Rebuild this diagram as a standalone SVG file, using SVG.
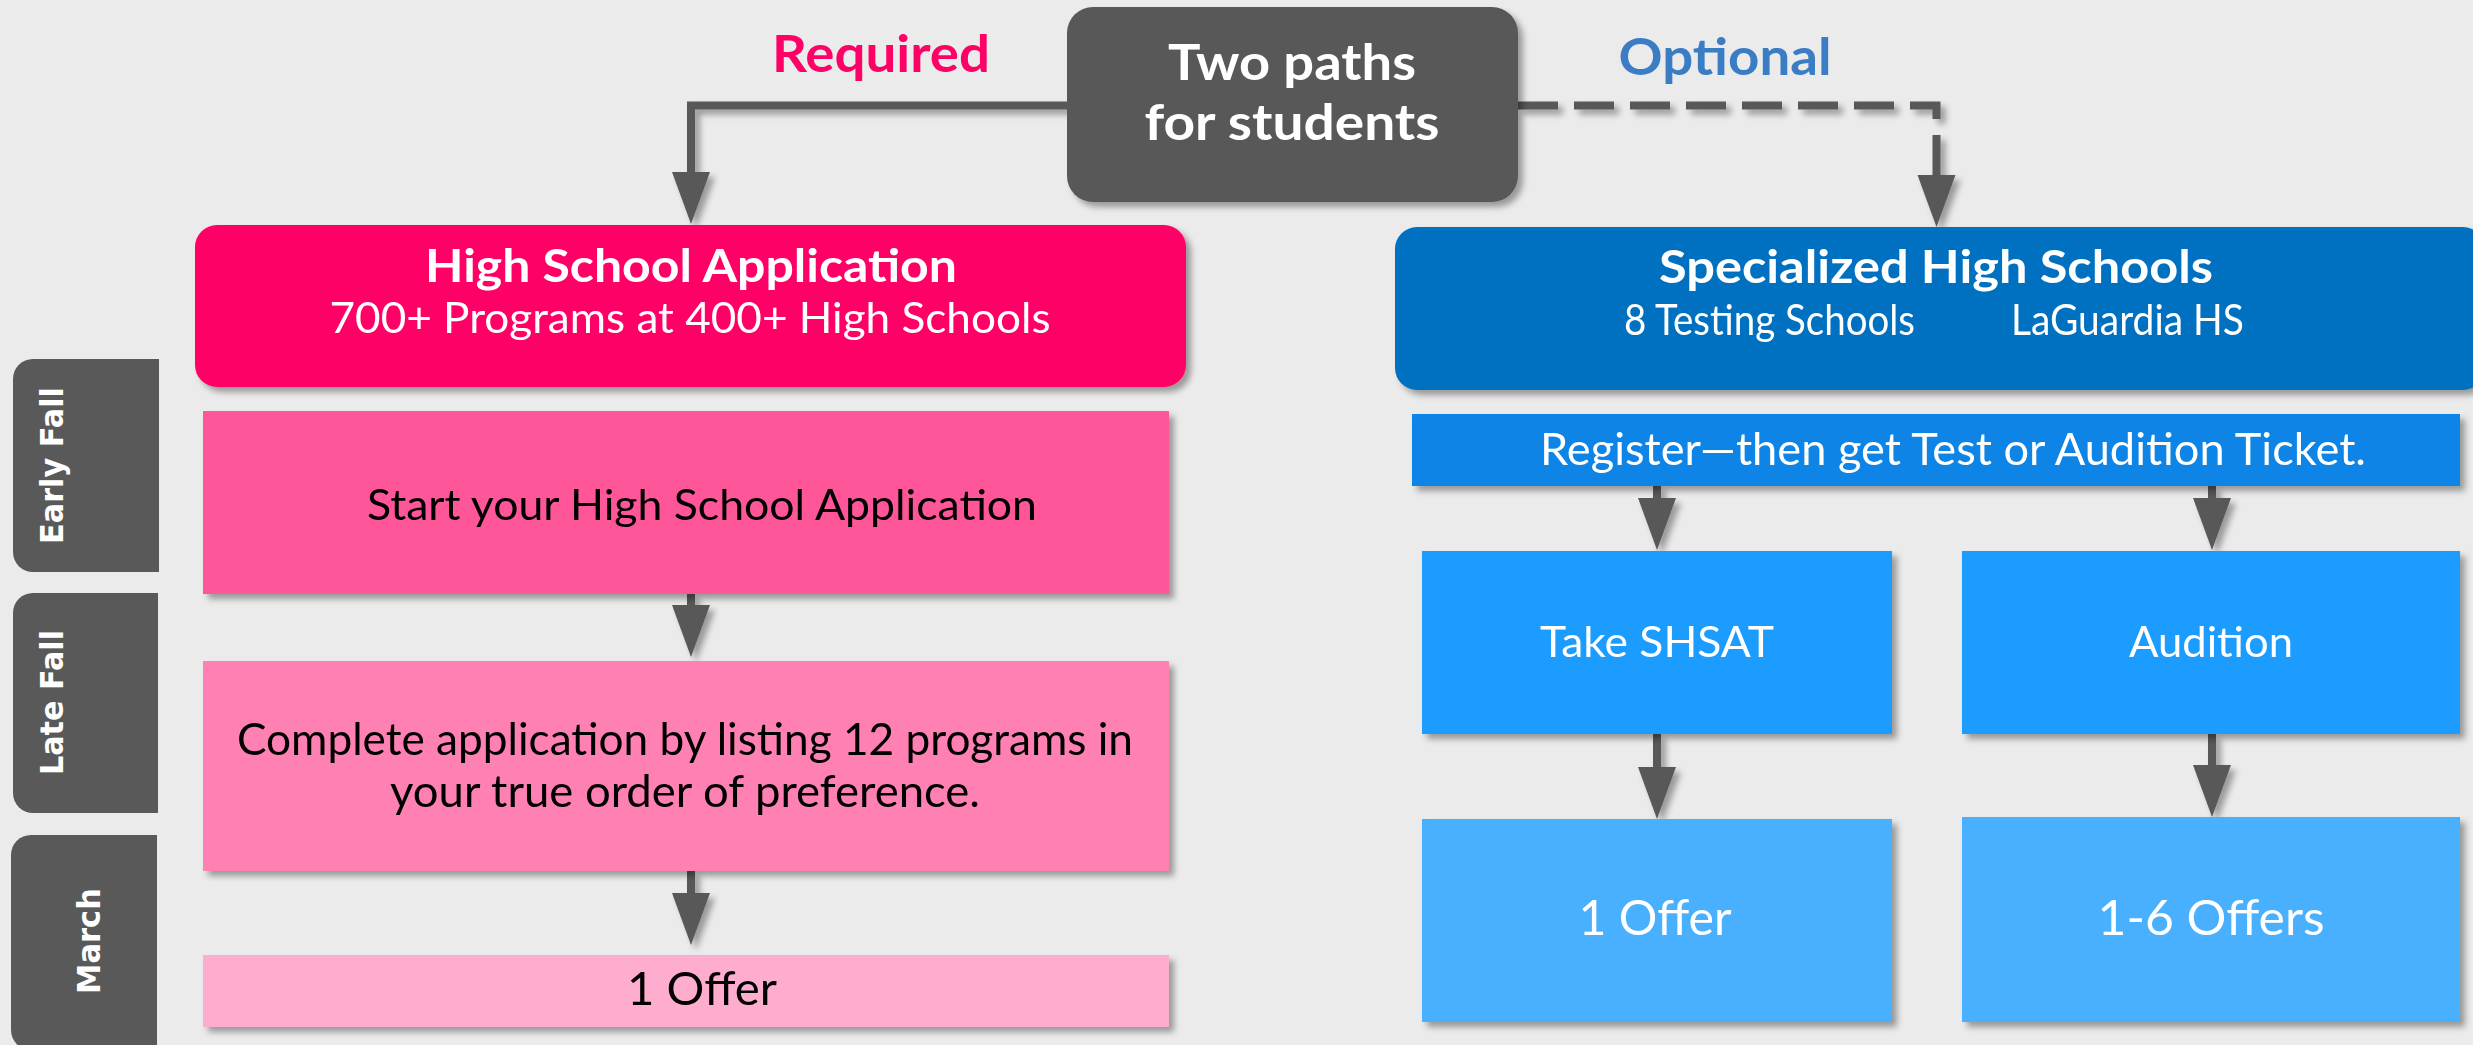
<svg xmlns="http://www.w3.org/2000/svg" width="2473" height="1045" viewBox="0 0 2473 1045">
<defs>
<filter id="sh" x="-10%" y="-10%" width="130%" height="140%">
<feDropShadow dx="5" dy="5" stdDeviation="3" flood-color="#000" flood-opacity="0.35"/>
</filter>
<marker id="ah" markerUnits="userSpaceOnUse" markerWidth="54" markerHeight="40" refX="0" refY="19" orient="auto" viewBox="0 0 54 38">
<path d="M0,0 L52,19 L0,38 Z" fill="#595959"/>
</marker>
<style>
.t{font-family:Lato,"Liberation Sans",sans-serif;}
.b{font-weight:bold;}
.w{fill:#fff;}
.k{fill:#000;}
.tab{fill:#595959;}
.tabt{font-family:"DejaVu Sans","Liberation Sans",sans-serif;font-weight:bold;font-size:32px;fill:#fff;}
.ln{fill:none;stroke:#595959;stroke-width:8;}
</style>
</defs>
<rect x="0" y="0" width="2473" height="1045" fill="#EBEBEB"/>

<g id="labels">
<text class="t b" x="881" y="72" font-size="51" fill="#FF0066" text-anchor="middle" textLength="218" lengthAdjust="spacingAndGlyphs">Required</text>
<text class="t b" x="1725" y="75" font-size="51" fill="#3A7DC4" text-anchor="middle" textLength="213" lengthAdjust="spacingAndGlyphs">Optional</text>
</g>

<g id="tabs">
<g id="tab-early-fall">
<path class="tab" d="M159,359 H33 A20,20 0 0 0 13,379 V552 A20,20 0 0 0 33,572 H159 Z"/>
<text class="tabt" transform="translate(63,465.5) rotate(-90)" text-anchor="middle" textLength="157" lengthAdjust="spacingAndGlyphs">Early Fall</text>
</g>
<g id="tab-late-fall">
<path class="tab" d="M158,593 H33 A20,20 0 0 0 13,613 V793 A20,20 0 0 0 33,813 H158 Z"/>
<text class="tabt" transform="translate(63,702.5) rotate(-90)" text-anchor="middle" textLength="145" lengthAdjust="spacingAndGlyphs">Late Fall</text>
</g>
<g id="tab-march">
<path class="tab" d="M157,835 H31 A20,20 0 0 0 11,855 V1030 A20,20 0 0 0 31,1050 H157 Z"/>
<text class="tabt" transform="translate(100,941) rotate(-90)" text-anchor="middle" textLength="106" lengthAdjust="spacingAndGlyphs">March</text>
</g>
</g>

<g id="connectors" filter="url(#sh)">
<path class="ln" d="M1067,105.5 H691 V172" marker-end="url(#ah)"/>
<path class="ln" d="M1518,105.5 H1936.5 V175" stroke-dasharray="40 16" marker-end="url(#ah)"/>
<path class="ln" d="M691,594 V605" marker-end="url(#ah)"/>
<path class="ln" d="M691,871 V893" marker-end="url(#ah)"/>
<path class="ln" d="M1657,486 V498" marker-end="url(#ah)"/>
<path class="ln" d="M2212,486 V498" marker-end="url(#ah)"/>
<path class="ln" d="M1657,734 V767" marker-end="url(#ah)"/>
<path class="ln" d="M2212,734 V765" marker-end="url(#ah)"/>
</g>

<g id="root" filter="url(#sh)">
<rect x="1067" y="7" width="451" height="195" rx="26" fill="#595959"/>
<text class="t b w" x="1292" y="80" font-size="50" text-anchor="middle" textLength="248" lengthAdjust="spacingAndGlyphs">Two paths</text>
<text class="t b w" x="1292" y="140" font-size="50" text-anchor="middle" textLength="295" lengthAdjust="spacingAndGlyphs">for students</text>
</g>

<g id="hs-application" filter="url(#sh)">
<rect x="195" y="225" width="991" height="162" rx="22" fill="#FF0066"/>
<text class="t b w" x="691" y="282" font-size="45" text-anchor="middle" textLength="532" lengthAdjust="spacingAndGlyphs">High School Application</text>
<text class="t w" x="690" y="333" font-size="42" text-anchor="middle" textLength="721" lengthAdjust="spacingAndGlyphs">700+ Programs at 400+ High Schools</text>
</g>

<g id="start-application" filter="url(#sh)">
<rect x="203" y="411" width="966" height="183" fill="#FF5599"/>
<text class="t k" x="702" y="520" font-size="42" text-anchor="middle" textLength="670" lengthAdjust="spacingAndGlyphs">Start your High School Application</text>
</g>

<g id="complete-application" filter="url(#sh)">
<rect x="203" y="661" width="966" height="210" fill="#FF80B2"/>
<text class="t k" x="685" y="755" font-size="44" text-anchor="middle" textLength="896" lengthAdjust="spacingAndGlyphs">Complete application by listing 12 programs in</text>
<text class="t k" x="685" y="807" font-size="44" text-anchor="middle" textLength="590" lengthAdjust="spacingAndGlyphs">your true order of preference.</text>
</g>

<g id="hs-offer" filter="url(#sh)">
<rect x="203" y="955" width="966" height="72" fill="#FFADCE"/>
<text class="t k" x="702" y="1005" font-size="46" text-anchor="middle" textLength="150" lengthAdjust="spacingAndGlyphs">1 Offer</text>
</g>

<g id="specialized" filter="url(#sh)">
<rect x="1395" y="227" width="1090" height="163" rx="22" fill="#0070C0"/>
<text class="t b w" x="1936" y="283" font-size="45" text-anchor="middle" textLength="554" lengthAdjust="spacingAndGlyphs">Specialized High Schools</text>
<text class="t w" x="1624" y="335" font-size="42" textLength="291" lengthAdjust="spacingAndGlyphs">8 Testing Schools</text>
<text class="t w" x="2011" y="335" font-size="42" textLength="233" lengthAdjust="spacingAndGlyphs">LaGuardia HS</text>
</g>

<g id="register" filter="url(#sh)">
<rect x="1412" y="414" width="1048" height="72" fill="#0A84E6"/>
<text class="t w" x="1953" y="465" font-size="44" text-anchor="middle" textLength="826" lengthAdjust="spacingAndGlyphs">Register—then get Test or Audition Ticket.</text>
</g>

<g id="take-shsat" filter="url(#sh)">
<rect x="1422" y="551" width="470" height="183" fill="#1A9CFF"/>
<text class="t w" x="1657" y="657" font-size="42" text-anchor="middle" textLength="234" lengthAdjust="spacingAndGlyphs">Take SHSAT</text>
</g>

<g id="audition" filter="url(#sh)">
<rect x="1962" y="551" width="498" height="183" fill="#1A9CFF"/>
<text class="t w" x="2211" y="657" font-size="42" text-anchor="middle" textLength="164" lengthAdjust="spacingAndGlyphs">Audition</text>
</g>

<g id="shsat-offer" filter="url(#sh)">
<rect x="1422" y="819" width="470" height="203" fill="#4AB0FF"/>
<text class="t w" x="1655" y="935" font-size="48" text-anchor="middle" textLength="153" lengthAdjust="spacingAndGlyphs">1 Offer</text>
</g>

<g id="audition-offers" filter="url(#sh)">
<rect x="1962" y="817" width="498" height="205" fill="#4AB0FF"/>
<text class="t w" x="2211" y="935" font-size="48" text-anchor="middle" textLength="227" lengthAdjust="spacingAndGlyphs">1-6 Offers</text>
</g>
</svg>
